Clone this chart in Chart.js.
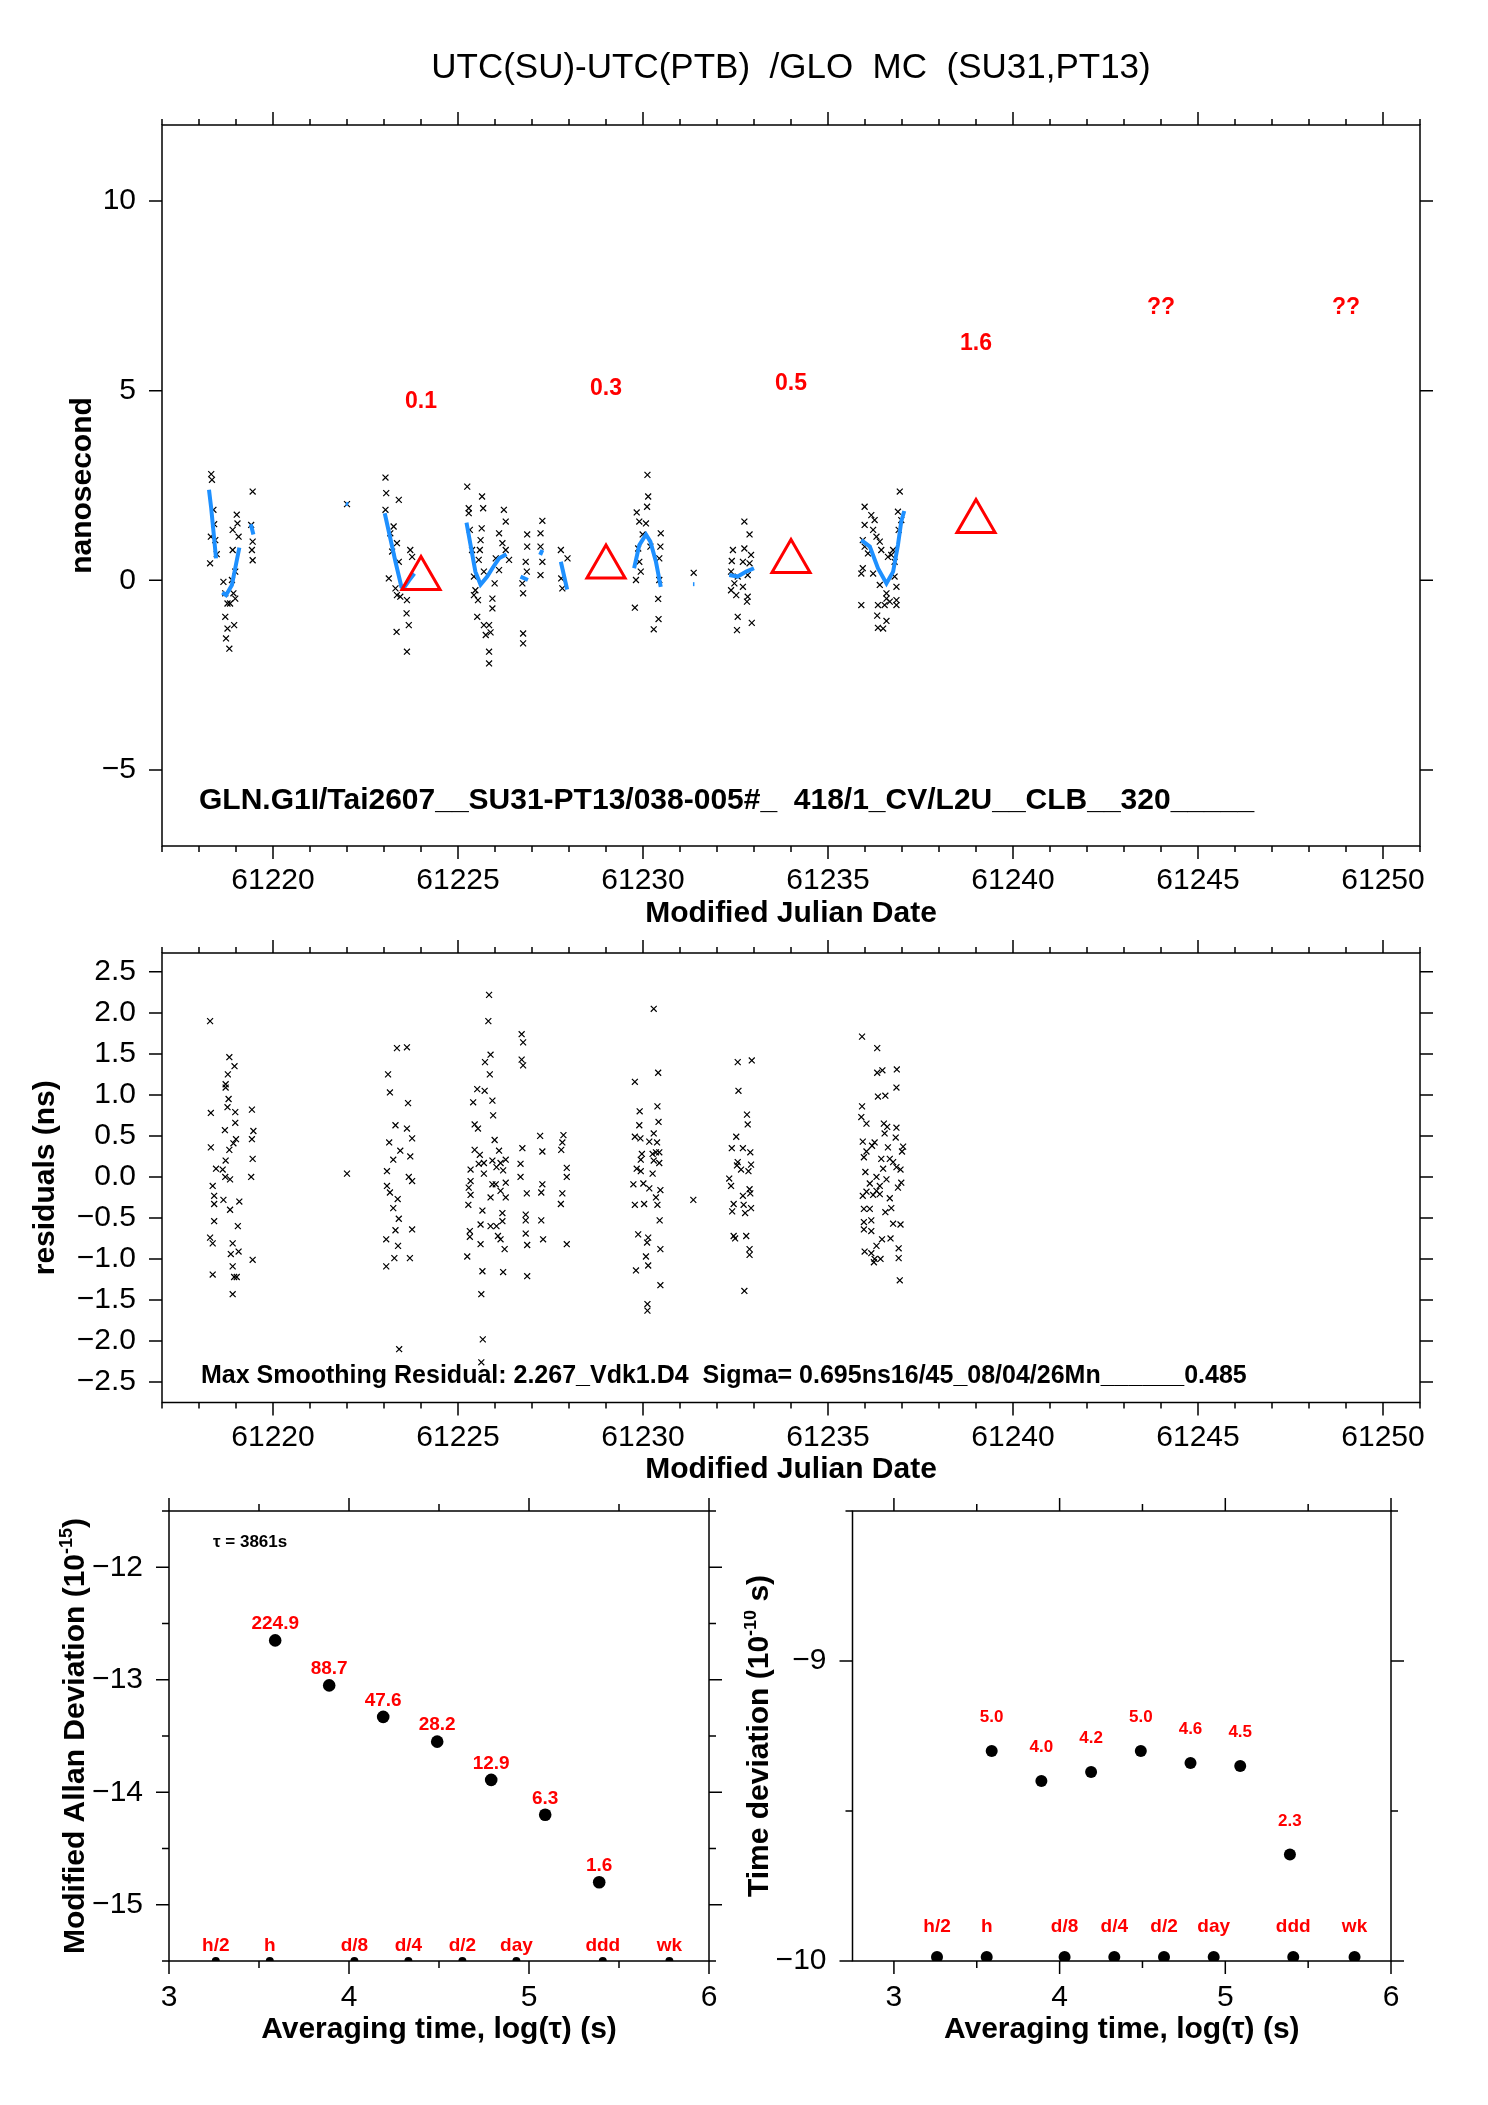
<!DOCTYPE html>
<html><head><meta charset="utf-8">
<script src="https://cdn.jsdelivr.net/npm/chart.js@4.4.1/dist/chart.umd.min.js"></script>
<style>
html,body{margin:0;padding:0;background:#fff;}
#page{position:relative;width:1488px;height:2105px;background:#fff;overflow:hidden;}
canvas{position:absolute;}
</style></head><body>
<div id="page">
<canvas id="cTop" width="1488" height="940" style="left:0;top:0;width:1488px;height:940px"></canvas>
<canvas id="cRes" width="1488" height="560" style="left:0;top:940px;width:1488px;height:560px"></canvas>
<canvas id="cAdev" width="744" height="615" style="left:0;top:1490px;width:744px;height:615px"></canvas>
<canvas id="cTdev" width="744" height="615" style="left:744px;top:1490px;width:744px;height:615px"></canvas>
</div>
<script>
// ================= DATA =================
const pageTitle = 'UTC(SU)-UTC(PTB)  /GLO  MC  (SU31,PT13)';
const infoText = 'GLN.G1I/Tai2607__SU31-PT13/038-005#_  418/1_CV/L2U__CLB__320_____';
const resText = 'Max Smoothing Residual: 2.267_Vdk1.D4  Sigma= 0.695ns16/45_08/04/26Mn______0.485';
const tauText = '\u03c4 = 3861s';

// MJD tick values / labels
const mjdTicks = [61220, 61225, 61230, 61235, 61240, 61245, 61250];
const mjdTickLabels = ['61220', '61225', '61230', '61235', '61240', '61245', '61250'];
const mjdMinor = [61217,61218,61219,61221,61222,61223,61224,61226,61227,61228,61229,61231,61232,61233,61234,61236,61237,61238,61239,61241,61242,61243,61244,61246,61247,61248,61249,61251];
const nsTicks = [-5, 0, 5, 10];
const nsTickLabels = ['\u22125', '0', '5', '10'];
const resTicks = [-2.5, -2.0, -1.5, -1.0, -0.5, 0.0, 0.5, 1.0, 1.5, 2.0, 2.5];
const resTickLabels = ['\u22122.5','\u22122.0','\u22121.5','\u22121.0','\u22120.5','0.0','0.5','1.0','1.5','2.0','2.5'];
const tauTicks = [3, 4, 5, 6];
const tauTickLabels = ['3', '4', '5', '6'];
const tauMinor = [3.5, 4.5, 5.5];
const adevTicks = [-15, -14, -13, -12];
const adevTickLabels = ['\u221215', '\u221214', '\u221213', '\u221212'];
const adevMinor = [-15.5, -14.5, -13.5, -12.5, -11.5];
const tdevTicks = [-10, -9];
const tdevTickLabels = ['\u221210', '\u22129'];
const tdevMinor = [-9.5, -8.5];

// top panel: measured points [MJD, ns]
const dataPts = [
 [61218.33,2.80],[61218.35,2.65],[61218.39,1.86],[61218.41,1.48],[61218.32,1.15],[61218.44,1.06],[61218.48,0.69],[61218.30,0.45],
 [61218.66,-0.04],[61218.91,0.80],[61219.02,1.73],[61219.04,1.50],[61218.91,1.33],[61219.07,1.15],[61218.98,0.23],[61218.89,0.01],
 [61218.71,-0.34],[61218.77,-0.61],[61218.84,-0.61],[61218.98,-0.48],[61218.71,-0.96],[61218.77,-1.27],[61218.73,-1.53],[61218.82,-1.80],
 [61218.95,-1.18],[61218.93,-0.34],
 [61219.45,2.34],[61219.41,1.46],[61219.45,1.02],[61219.43,0.80],[61219.45,0.53],
 [61222.00,2.01],
 [61223.04,2.71],[61223.06,2.30],[61223.40,2.12],[61223.04,1.86],[61223.26,1.42],[61223.17,1.24],[61223.35,0.98],[61223.22,0.76],
 [61223.40,0.49],[61223.13,0.05],[61223.31,-0.21],[61223.35,-0.39],[61223.62,-0.52],[61223.71,0.80],[61223.76,0.62],[61223.61,-0.87],
 [61223.67,-1.18],[61223.34,-1.36],[61223.62,-1.88],[61223.44,-0.43],
 [61225.25,2.47],[61225.29,1.90],[61225.29,1.77],[61225.65,2.21],[61225.68,1.90],[61225.32,1.33],[61225.64,1.37],[61225.61,1.06],
 [61225.38,0.80],[61225.59,0.80],[61225.56,0.54],[61225.43,0.10],[61225.70,0.23],[61225.47,-0.26],[61225.43,-0.39],[61225.54,-0.52],
 [61225.52,-0.96],[61225.70,-1.18],[61225.84,-1.18],[61225.75,-1.44],[61225.88,-1.37],[61225.84,-1.88],[61225.84,-2.19],[61225.93,-0.48],
 [61225.93,-0.74],[61225.99,-0.08],[61226.02,0.58],[61226.11,0.27],[61226.11,1.24],[61226.24,1.86],[61226.29,1.55],[61226.20,0.98],
 [61226.29,0.80],[61226.38,0.54],
 [61226.87,1.21],[61227.28,1.57],[61227.23,1.24],[61226.87,0.89],[61227.23,0.89],[61226.83,0.49],[61227.28,0.49],[61226.86,0.23],
 [61227.23,0.14],[61226.74,-0.08],[61226.76,-0.34],[61226.76,-1.40],[61226.76,-1.66],
 [61227.78,0.80],[61227.96,0.58],[61227.79,0.05],[61227.82,-0.21],
 [61230.12,2.78],[61230.14,2.21],[61230.11,1.94],[61229.83,1.79],[61229.90,1.55],[61230.08,1.50],[61229.99,1.21],[61230.48,1.24],
 [61230.20,0.89],[61230.47,0.89],[61230.44,0.58],[61229.90,0.49],[61229.94,0.23],[61229.81,0.01],[61230.44,0.01],[61230.41,-0.49],
 [61229.78,-0.72],[61230.42,-1.02],[61230.29,-1.29],[61229.87,0.84],
 [61231.37,0.20],
 [61232.74,1.55],[61232.88,1.21],[61232.43,0.80],[61232.74,0.84],[61232.92,0.67],[61232.40,0.51],[61232.70,0.49],[61232.88,0.45],
 [61232.38,0.23],[61232.56,0.10],[61232.83,0.14],[61232.47,-0.08],[61232.70,-0.17],[61232.38,-0.26],[61232.52,-0.39],[61232.83,-0.43],
 [61232.81,-0.56],[61232.56,-0.96],[61232.94,-1.12],[61232.54,-1.31],
 [61235.99,1.94],[61236.17,1.72],[61236.26,1.59],[61235.99,1.46],[61236.22,1.33],[61236.31,1.15],[61236.40,1.02],[61235.94,1.06],
 [61235.99,0.89],[61236.08,0.71],[61236.44,0.80],[61235.94,0.32],[61236.22,0.18],[61235.90,0.18],[61236.94,2.34],[61236.89,1.81],
 [61236.98,1.59],[61236.91,1.33],[61236.76,0.80],[61236.71,0.67],[61236.80,0.10],[61236.85,-0.17],[61236.40,-0.12],[61236.58,-0.34],
 [61236.53,-0.65],[61236.67,-0.56],[61236.35,-0.65],[61235.90,-0.65],[61236.33,-0.93],[61236.58,-1.07],[61236.35,-1.25],[61236.49,-1.27],
 [61236.85,-0.65],[61236.85,-0.52],[61236.58,-0.48],[61236.80,0.49],[61236.62,0.62]
];

// top panel: smoothing curve pieces [MJD, ns]
const smoothSegs = [
 [[61218.27,2.39],[61218.33,1.90],[61218.40,1.20],[61218.46,0.58]],
 [[61218.63,-0.32],[61218.73,-0.39],[61218.89,-0.12],[61218.98,0.32],[61219.09,0.86]],
 [[61219.40,1.48],[61219.47,1.21]],
 [[61221.97,2.02],[61222.03,2.00]],
 [[61223.02,1.77],[61223.17,1.11],[61223.31,0.49],[61223.47,-0.17],[61223.53,-0.21],[61223.68,0.00],[61223.82,0.18]],
 [[61225.23,1.52],[61225.34,0.93],[61225.47,0.23],[61225.61,-0.11],[61225.79,0.10],[61225.93,0.32],[61226.11,0.58],[61226.31,0.69]],
 [[61226.69,0.10],[61226.89,0.01]],
 [[61227.22,0.67],[61227.28,0.80]],
 [[61227.78,0.49],[61227.95,-0.24]],
 [[61229.76,0.32],[61229.90,0.93],[61230.08,1.21],[61230.20,1.02],[61230.35,0.49],[61230.48,-0.17]],
 [[61231.35,-0.10],[61231.39,-0.10]],
 [[61232.33,0.14],[61232.56,0.10],[61232.79,0.23],[61233.00,0.32]],
 [[61235.90,1.06],[61236.13,0.89],[61236.35,0.32],[61236.58,-0.08],[61236.76,0.23],[61236.89,0.93],[61236.98,1.55],[61237.06,1.83]]
];

// red triangles and their labels
const triPts = [[61224,0.05],[61229,0.35],[61234,0.50],[61239,1.55]];
const noteMjd = [61224, 61229, 61234, 61239, 61244, 61249];
const noteNs = [4.77, 5.10, 5.23, 6.29, 7.23, 7.23];
const noteText = ['0.1', '0.3', '0.5', '1.6', '??', '??'];

// residuals [MJD, ns]
const resPts = [
 [61218.30,1.90],[61218.32,0.78],[61218.32,0.36],[61218.46,0.10],[61218.37,-0.11],[61218.41,-0.23],[61218.41,-0.33],[61218.41,-0.54],
 [61218.30,-0.74],[61218.37,-0.81],[61218.37,-1.19],[61218.66,-0.28],
 [61218.82,1.46],[61218.96,1.35],[61218.78,1.25],[61218.72,1.13],[61218.72,1.09],[61218.80,0.95],[61218.77,0.85],[61218.98,0.79],
 [61218.98,0.66],[61218.70,0.57],[61219.00,0.46],[61218.93,0.41],[61218.82,0.33],[61218.72,0.20],[61218.64,0.09],[61218.71,0.00],
 [61218.84,-0.03],[61219.09,-0.30],[61218.84,-0.40],[61219.05,-0.60],[61218.91,-0.81],[61218.86,-0.94],[61219.07,-0.91],[61218.91,-1.09],
 [61218.95,-1.22],[61219.02,-1.22],[61218.91,-1.43],
 [61219.43,0.82],[61219.47,0.56],[61219.43,0.46],[61219.45,0.22],[61219.41,0.00],[61219.45,-1.01],
 [61222.00,0.04],
 [61223.35,1.57],[61223.62,1.58],[61223.11,1.25],[61223.16,1.03],[61223.65,0.90],[61223.31,0.63],[61223.62,0.59],[61223.76,0.47],
 [61223.14,0.42],[61223.25,0.21],[61223.44,0.32],[61223.71,0.25],[61223.08,0.07],[61223.67,0.00],[61223.76,-0.05],[61223.08,-0.11],
 [61223.16,-0.19],[61223.37,-0.27],[61223.25,-0.38],[61223.40,-0.51],[61223.31,-0.65],[61223.76,-0.64],[61223.06,-0.76],[61223.38,-0.84],
 [61223.28,-0.99],[61223.70,-0.99],[61223.06,-1.09],[61223.41,-2.10],
 [61225.84,2.22],[61225.82,1.90],[61225.88,1.49],[61225.73,1.40],[61225.86,1.25],[61225.52,1.07],[61225.72,1.05],[61225.41,0.91],
 [61225.93,0.93],[61225.95,0.75],[61225.45,0.64],[61225.54,0.59],[61225.99,0.45],[61226.11,0.32],[61225.45,0.33],[61225.59,0.27],
 [61225.56,0.16],[61225.70,0.17],[61225.93,0.20],[61226.15,0.17],[61226.29,0.21],[61225.34,0.09],[61225.70,0.04],[61226.04,0.12],
 [61226.22,0.08],[61225.34,-0.05],[61225.29,-0.13],[61225.93,-0.09],[61226.02,-0.09],[61226.29,-0.07],[61225.34,-0.22],[61225.28,-0.34],
 [61225.88,-0.25],[61226.15,-0.17],[61226.29,-0.25],[61225.66,-0.41],[61226.20,-0.44],[61225.61,-0.58],[61225.88,-0.60],[61226.04,-0.60],
 [61226.20,-0.54],[61225.32,-0.66],[61225.32,-0.73],[61226.08,-0.72],[61226.15,-0.76],[61225.61,-0.82],[61226.26,-0.88],[61225.25,-0.97],
 [61225.66,-1.15],[61226.22,-1.16],[61225.63,-1.43],[61225.67,-1.98],[61225.63,-2.26],
 [61226.72,1.74],[61226.76,1.64],[61226.72,1.43],[61226.76,1.36],[61227.22,0.50],[61227.28,0.31],[61226.74,0.35],[61226.69,0.16],
 [61226.69,0.00],[61226.86,-0.20],[61227.28,-0.09],[61227.25,-0.19],[61226.83,-0.46],[61226.83,-0.53],[61227.25,-0.53],[61226.83,-0.69],
 [61226.87,-0.83],[61227.30,-0.76],[61226.87,-1.21],
 [61227.85,0.51],[61227.82,0.42],[61227.79,0.33],[61227.94,0.11],[61227.94,0.00],[61227.82,-0.20],[61227.78,-0.33],[61227.94,-0.82],
 [61230.29,2.05],[61229.78,1.16],[61230.41,1.27],[61230.39,0.86],[61229.91,0.80],[61230.42,0.67],[61229.90,0.63],[61230.29,0.53],
 [61229.78,0.49],[61229.93,0.47],[61230.17,0.43],[61230.38,0.42],[61230.35,0.30],[61229.97,0.28],[61230.26,0.28],[61230.44,0.30],
 [61229.94,0.21],[61230.29,0.20],[61230.44,0.17],[61229.83,0.10],[61229.94,0.07],[61230.26,0.04],[61229.74,-0.09],[61230.01,-0.08],
 [61230.17,-0.14],[61230.47,-0.16],[61230.35,-0.25],[61229.78,-0.34],[61230.03,-0.33],[61230.39,-0.34],[61230.45,-0.53],[61229.87,-0.70],
 [61230.14,-0.74],[61230.11,-0.80],[61230.47,-0.88],[61230.08,-0.97],[61230.14,-1.08],[61229.81,-1.14],[61230.47,-1.32],[61230.12,-1.55],
 [61230.12,-1.63],
 [61231.36,-0.28],
 [61232.56,1.40],[61232.94,1.42],[61232.58,1.05],[61232.81,0.76],[61232.83,0.64],[61232.52,0.49],[61232.40,0.35],[61232.70,0.35],
 [61232.90,0.30],[61232.56,0.18],[61232.54,0.14],[61232.92,0.15],[61232.65,0.09],[61232.85,0.07],[61232.33,-0.02],[61232.38,-0.11],
 [61232.88,-0.15],[61232.90,-0.20],[61232.70,-0.23],[61232.45,-0.33],[61232.72,-0.34],[61232.92,-0.38],[61232.41,-0.42],[61232.76,-0.44],
 [61232.45,-0.72],[61232.49,-0.75],[61232.79,-0.72],[61232.88,-0.88],[61232.88,-0.95],[61232.74,-1.39],
 [61235.92,1.71],[61236.33,1.57],[61236.33,1.27],[61236.47,1.30],[61236.86,1.31],[61236.85,1.09],[61236.35,0.98],[61236.55,0.99],
 [61235.92,0.86],[61235.90,0.73],[61236.04,0.65],[61236.51,0.65],[61236.60,0.61],[61236.85,0.60],[61236.53,0.53],[61236.83,0.48],
 [61235.94,0.43],[61236.26,0.42],[61236.19,0.38],[61236.62,0.36],[61237.03,0.37],[61236.04,0.31],[61237.00,0.31],[61235.97,0.24],
 [61236.44,0.22],[61236.67,0.22],[61236.76,0.18],[61236.85,0.12],[61236.96,0.09],[61236.01,0.06],[61236.49,0.10],[61236.31,0.00],
 [61236.58,-0.03],[61236.13,-0.08],[61236.98,-0.07],[61236.40,-0.11],[61236.89,-0.13],[61236.04,-0.18],[61236.31,-0.17],[61235.94,-0.23],
 [61236.22,-0.22],[61236.67,-0.26],[61236.40,-0.21],[61235.97,-0.39],[61236.13,-0.39],[61236.55,-0.43],[61236.71,-0.38],[61235.97,-0.55],
 [61236.17,-0.53],[61236.76,-0.57],[61236.96,-0.58],[61235.97,-0.64],[61236.17,-0.66],[61236.46,-0.76],[61236.69,-0.75],[61236.31,-0.84],
 [61235.99,-0.91],[61236.17,-0.93],[61236.26,-1.00],[61236.42,-1.00],[61236.24,-1.04],[61236.91,-0.87],[61236.91,-0.99],[61236.94,-1.26]
];

// stability panels
const tauPts = [3.59, 3.89, 4.19, 4.49, 4.79, 5.09, 5.39];
const adevVal = [-12.65, -13.05, -13.33, -13.55, -13.89, -14.20, -14.80];
const adevLabels = ['224.9', '88.7', '47.6', '28.2', '12.9', '6.3', '1.6'];
const tdevVal = [-9.30, -9.40, -9.37, -9.30, -9.34, -9.35, -9.645];
const tdevLabels = ['5.0', '4.0', '4.2', '5.0', '4.6', '4.5', '2.3'];
const markTau = [3.26, 3.56, 4.03, 4.33, 4.63, 4.93, 5.41, 5.78];
const markLabels = ['h/2', 'h', 'd/8', 'd/4', 'd/2', 'day', 'ddd', 'wk'];
const markAdev = [-15.5, -15.5, -15.5, -15.5, -15.5, -15.5, -15.5, -15.5];
const markTdev = [-9.987, -9.987, -9.987, -9.987, -9.987, -9.987, -9.987, -9.987];

// ================= RENDERING =================
const FONT = '"Liberation Sans", Arial, Helvetica, sans-serif';
const RED = '#ff0000';
const TICK_SIZE = 30;
const f = (size, bold) => (bold ? 'bold ' : '') + size + 'px ' + FONT;
const toXY = arr => arr.map(p => ({x: p[0], y: p[1]}));
const zipXY = (xs, ys) => xs.map((x, i) => ({x: x, y: ys[i]}));

function linAxis(o) {
  return {
    type: 'linear', position: o.pos, min: o.min, max: o.max,
    afterBuildTicks: s => { s.ticks = o.ticks.map(v => ({value: v})); },
    afterFit: s => {
      if (o.pos === 'bottom') s.height = o.size; else s.width = o.size;
      s.paddingTop = 0; s.paddingBottom = 0; s.paddingLeft = 0; s.paddingRight = 0;
    },
    grid: {display: false, drawTicks: false, tickLength: 0},
    border: {display: false},
    ticks: {autoSkip: false, maxRotation: 0, minRotation: 0, padding: o.pad, color: '#000',
            font: {family: FONT, size: TICK_SIZE}, callback: (v, i) => o.labels[i]},
    title: o.title ? {display: true, text: o.title, color: '#000',
                      font: {family: FONT, size: 30, weight: 'bold'}, padding: o.titlePad}
                   : {display: false}
  };
}

function frameTicks(o) {
  return {
    id: 'frameTicks',
    afterDatasetsDraw(chart) {
      const ctx = chart.ctx, a = chart.chartArea, sx = chart.scales.x, sy = chart.scales.y;
      ctx.save();
      ctx.strokeStyle = '#000';
      ctx.lineWidth = 1.5;
      ctx.strokeRect(a.left, a.top, a.right - a.left, a.bottom - a.top);
      const tx = (vals, len) => vals.forEach(v => {
        const p = sx.getPixelForValue(v);
        ctx.beginPath();
        ctx.moveTo(p, a.bottom); ctx.lineTo(p, a.bottom + len);
        ctx.moveTo(p, a.top); ctx.lineTo(p, a.top - len);
        ctx.stroke();
      });
      const ty = (vals, len) => vals.forEach(v => {
        const p = sy.getPixelForValue(v);
        ctx.beginPath();
        ctx.moveTo(a.left, p); ctx.lineTo(a.left - len, p);
        ctx.moveTo(a.right, p); ctx.lineTo(a.right + len, p);
        ctx.stroke();
      });
      tx(o.xMajor, o.major); tx(o.xMinor, o.minor);
      ty(o.yMajor, o.major); ty(o.yMinor, o.minor);
      ctx.restore();
    }
  };
}

function drawParts(ctx, parts, x, y, rot, align) {
  ctx.save();
  ctx.translate(x, y);
  if (rot) ctx.rotate(rot * Math.PI / 180);
  let total = 0;
  const w = parts.map(p => { ctx.font = p.font; const m = ctx.measureText(p.text).width; total += m; return m; });
  let cx = align === 'left' ? 0 : (align === 'right' ? -total : -total / 2);
  parts.forEach((p, i) => {
    ctx.font = p.font;
    ctx.fillStyle = p.color || '#000';
    ctx.textAlign = 'left';
    ctx.textBaseline = 'alphabetic';
    ctx.fillText(p.text, cx, p.dy || 0);
    cx += w[i];
  });
  ctx.restore();
}

function notes(items) {
  return {
    id: 'notes',
    afterDraw(chart) {
      const ctx = chart.ctx, sx = chart.scales.x, sy = chart.scales.y;
      items.forEach(it => {
        const x = it.px !== undefined ? it.px : sx.getPixelForValue(it.x);
        const y = it.py !== undefined ? it.py : sy.getPixelForValue(it.y);
        const parts = it.parts || [{text: it.text, font: it.font, color: it.color}];
        drawParts(ctx, parts, x + (it.dx || 0), y + (it.dy || 0), it.rot || 0, it.align || 'center');
      });
    }
  };
}

function makeChart(id, cfg) {
  return new Chart(document.getElementById(id), {
    type: 'scatter',
    data: {datasets: cfg.datasets},
    options: {
      responsive: false, maintainAspectRatio: false, animation: false, devicePixelRatio: 1,
      events: [],
      layout: {padding: cfg.padding},
      plugins: {legend: {display: false}, tooltip: {enabled: false}, title: {display: false}},
      scales: {x: linAxis(cfg.x), y: linAxis(cfg.y)}
    },
    plugins: [frameTicks(cfg.frame), notes(cfg.notes)]
  });
}

// ---- top panel ----
const topSets = [{
  data: toXY(triPts), pointStyle: 'triangle', pointRadius: 22, borderColor: RED,
  borderWidth: 3, backgroundColor: 'rgba(0,0,0,0)'
}];
smoothSegs.forEach(seg => topSets.push({
  data: toXY(seg), showLine: true, borderColor: '#1e90ff', borderWidth: 4,
  pointRadius: 0, fill: false, tension: 0
}));
topSets.push({
  data: toXY(dataPts), pointStyle: 'crossRot', pointRadius: 4.2, borderColor: '#000',
  borderWidth: 1.2, backgroundColor: '#000'
});
makeChart('cTop', {
  datasets: topSets,
  padding: {left: 0, top: 125, right: 68, bottom: 0},
  x: {pos: 'bottom', min: 61217, max: 61251, ticks: mjdTicks, labels: mjdTickLabels, size: 94, pad: 17,
      title: 'Modified Julian Date', titlePad: {top: 0, bottom: 8}},
  y: {pos: 'left', min: -7, max: 12, ticks: nsTicks, labels: nsTickLabels, size: 162, pad: 26,
      title: 'nanosecond', titlePad: {top: 65, bottom: 0}},
  frame: {xMajor: mjdTicks, xMinor: mjdMinor, yMajor: nsTicks, yMinor: [], major: 13, minor: 6},
  notes: [
    {px: 791, py: 78, text: pageTitle, font: f(35)},
    {px: 199, py: 809, text: infoText, font: f(30, true), align: 'left'}
  ].concat(noteText.map((t, i) => ({x: noteMjd[i], y: noteNs[i], dy: 8.2, text: t, font: f(23, true), color: RED})))
});

// ---- residual panel ----
makeChart('cRes', {
  datasets: [{
    data: toXY(resPts), pointStyle: 'crossRot', pointRadius: 4.2, borderColor: '#000',
    borderWidth: 1.2, backgroundColor: '#000'
  }],
  padding: {left: 0, top: 13, right: 68, bottom: 0},
  x: {pos: 'bottom', min: 61217, max: 61251, ticks: mjdTicks, labels: mjdTickLabels, size: 97.5, pad: 17,
      title: 'Modified Julian Date', titlePad: {top: 0, bottom: 12}},
  y: {pos: 'left', min: -2.75, max: 2.73, ticks: resTicks, labels: resTickLabels, size: 162, pad: 26,
      title: 'residuals (ns)', titlePad: {top: 27.5, bottom: 0}},
  frame: {xMajor: mjdTicks, xMinor: mjdMinor, yMajor: resTicks, yMinor: [], major: 13, minor: 6},
  notes: [{px: 201, py: 443, text: resText, font: f(25, true), align: 'left'}]
});

// ---- MDEV panel ----
makeChart('cAdev', {
  datasets: [
    {data: zipXY(tauPts, adevVal), pointStyle: 'circle', pointRadius: 6.3, borderWidth: 0, backgroundColor: '#000'},
    {data: zipXY(markTau, markAdev), pointStyle: 'circle', pointRadius: 4, borderWidth: 0, backgroundColor: '#000', clip: 0}
  ],
  padding: {left: 0, top: 21, right: 35, bottom: 0},
  x: {pos: 'bottom', min: 3, max: 6, ticks: tauTicks, labels: tauTickLabels, size: 144, pad: 19,
      title: 'Averaging time, log(\u03c4) (s)', titlePad: {top: 0, bottom: 57}},
  y: {pos: 'left', min: -15.5, max: -11.5, ticks: adevTicks, labels: adevTickLabels, size: 169, pad: 26},
  frame: {xMajor: tauTicks, xMinor: tauMinor, yMajor: adevTicks, yMinor: adevMinor, major: 13, minor: 7},
  notes: [
    {px: 213, py: 56.7, text: tauText, font: f(17, true), align: 'left'},
    {px: 83.7, py: 246, rot: -90, parts: [
      {text: 'Modified Allan Deviation (10', font: f(30, true)},
      {text: '-15', font: f(18, true), dy: -12},
      {text: ')', font: f(30, true)}]}
  ].concat(adevLabels.map((t, i) => ({x: tauPts[i], y: adevVal[i], dy: -11.2, text: t, font: f(19, true), color: RED})))
   .concat(markLabels.map((t, i) => ({x: markTau[i], y: markAdev[i], dy: -10.2, text: t, font: f(19, true), color: RED})))
});

// ---- TDEV panel ----
makeChart('cTdev', {
  datasets: [
    {data: zipXY(tauPts, tdevVal), pointStyle: 'circle', pointRadius: 6, borderWidth: 0, backgroundColor: '#000'},
    {data: zipXY(markTau, markTdev), pointStyle: 'circle', pointRadius: 6, borderWidth: 0, backgroundColor: '#000', clip: 0}
  ],
  padding: {left: 0, top: 21, right: 97, bottom: 0},
  x: {pos: 'bottom', min: 2.75, max: 6, ticks: tauTicks, labels: tauTickLabels, size: 144, pad: 19,
      title: 'Averaging time, log(\u03c4) (s)', titlePad: {top: 0, bottom: 57}},
  y: {pos: 'left', min: -10, max: -8.5, ticks: tdevTicks, labels: tdevTickLabels, size: 108.5, pad: 26},
  frame: {xMajor: tauTicks, xMinor: tauMinor, yMajor: tdevTicks, yMinor: tdevMinor, major: 13, minor: 7},
  notes: [
    {px: 23.7, py: 246, rot: -90, parts: [
      {text: 'Time deviation (10', font: f(30, true)},
      {text: '-10', font: f(18, true), dy: -12},
      {text: ' s)', font: f(30, true)}]}
  ].concat(tdevLabels.map((t, i) => ({x: tauPts[i], y: tdevVal[i], dy: -28.9, text: t, font: f(17, true), color: RED})))
   .concat(markLabels.map((t, i) => ({x: markTau[i], y: -10, dy: -29.2, text: t, font: f(19, true), color: RED})))
});
</script>
</body></html>
